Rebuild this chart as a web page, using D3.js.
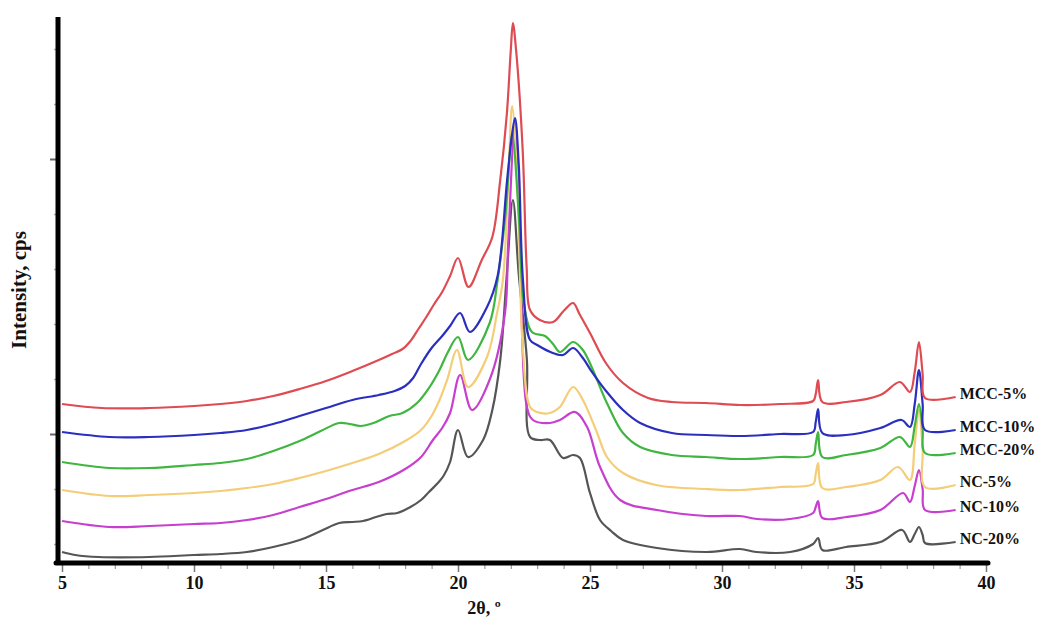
<!DOCTYPE html>
<html>
<head>
<meta charset="utf-8">
<script src="https://cdn.jsdelivr.net/npm/d3@7"></script>
<style>
  html, body { margin: 0; padding: 0; background: #fff; }
  svg { display: block; }
  .lbl { font-family: "Liberation Serif", "Times New Roman", serif; font-weight: bold; fill: #111; }
</style>
</head>
<body>
<svg id="chart" width="1041" height="625"></svg>
<script>
// ---- Data (2θ in degrees, intensity in arbitrary cps units, offsets included) ----
const seriesNames = ["MCC-5%", "MCC-10%", "MCC-20%", "NC-5%", "NC-10%", "NC-20%"];
const seriesColors = ["#de4b52", "#2b2fbf", "#3fb63f", "#f4cd78", "#c63fcf", "#555555"];

const mcc5 = [[5.0,140],[6.5,136],[8.3,136],[10.0,138],[11.0,140],[12.0,143],[13.0,148],[14.0,155],[15.0,163],[16.0,173],[17.0,184],[17.5,190],[17.9,195],[18.2,203],[18.5,215],[18.8,227],[19.1,240],[19.4,252],[19.7,268],[20.0,286],[20.4,257],[20.9,284],[21.3,307],[21.6,364],[21.85,430],[22.0,494],[22.08,521],[22.2,494],[22.45,394],[22.6,277],[22.73,234],[23.1,224],[23.6,222],[24.0,233],[24.36,241],[24.6,230],[25.0,211],[25.6,181],[26.25,161],[27.2,146],[28.1,142],[29.4,141],[30.7,139],[32.2,140],[33.45,143],[33.55,150],[33.64,164],[33.8,142],[34.7,142],[36.0,149],[36.74,162],[37.12,152],[37.3,172],[37.46,202],[37.6,170],[37.69,146],[38.85,147]];
const mcc10 = [[5.0,112],[6.8,107],[8.3,107],[10.0,109],[11.0,111],[12.0,114],[13.0,120],[14.0,128],[15.0,136],[16.0,144],[17.0,149],[17.6,153],[18.0,158],[18.3,166],[18.6,180],[19.0,196],[19.4,208],[19.7,218],[20.08,231],[20.45,212],[21.1,237],[21.5,268],[21.86,364],[22.05,410],[22.16,426],[22.3,380],[22.46,264],[22.73,204],[23.0,199],[23.5,192],[23.98,189],[24.36,196],[24.73,186],[25.0,175],[25.64,152],[26.25,134],[26.9,121],[28.1,111],[29.4,109],[30.7,108],[32.2,110],[33.45,112],[33.55,122],[33.64,135],[33.8,111],[34.7,109],[36.0,116],[36.8,124],[37.12,117],[37.3,140],[37.46,174],[37.6,140],[37.69,114],[38.85,114]];
const mcc20 = [[5.0,82],[6.8,76],[8.3,76],[10.0,79],[11.0,81],[12.0,85],[13.0,93],[14.0,103],[14.8,113],[15.5,121],[15.9,120],[16.3,118],[16.8,121],[17.4,128],[17.9,131],[18.45,141],[18.9,156],[19.3,174],[19.6,191],[20.0,207],[20.38,184],[21.2,221],[21.5,264],[21.8,330],[22.05,409],[22.3,330],[22.5,240],[22.8,212],[23.3,208],[23.6,200],[23.86,192],[24.36,202],[24.73,194],[25.64,141],[26.25,111],[26.9,97],[28.1,89],[29.4,87],[30.7,85],[32.2,87],[33.45,89],[33.55,100],[33.64,112],[33.8,87],[34.7,89],[36.0,96],[36.74,107],[37.12,97],[37.3,118],[37.46,140],[37.6,115],[37.69,91],[38.85,91]];
const nc5 = [[5.0,54],[6.8,48],[8.3,49],[10.0,51],[11.0,53],[12.0,56],[13.0,60],[14.0,66],[15.0,73],[16.0,81],[17.0,90],[18.0,103],[18.6,114],[19.0,128],[19.3,144],[19.6,165],[19.96,194],[20.38,157],[21.1,187],[21.48,231],[21.7,264],[21.9,360],[22.05,438],[22.25,360],[22.46,194],[22.73,137],[22.99,132],[23.48,131],[23.86,137],[24.36,157],[24.73,144],[25.27,111],[25.64,87],[26.25,71],[27.5,59],[29.4,55],[30.7,54],[32.2,57],[33.45,60],[33.55,70],[33.64,81],[33.8,56],[34.7,57],[36.0,64],[36.67,77],[37.12,64],[37.3,100],[37.46,134],[37.6,95],[37.69,57],[38.85,59]];
const nc10 = [[5.0,23],[6.8,17],[8.3,18],[10.0,20],[11.0,21],[12.0,24],[13.0,29],[14.0,37],[15.0,45],[16.0,54],[17.0,62],[18.0,75],[18.6,87],[19.05,104],[19.4,116],[19.7,131],[20.08,169],[20.53,134],[21.21,165],[21.78,231],[21.9,300],[22.16,422],[22.35,300],[22.61,137],[22.84,124],[23.48,121],[23.86,124],[24.43,132],[24.89,117],[25.38,77],[26.14,44],[27.54,34],[29.4,28],[30.68,28],[31.33,25],[32.58,25],[33.45,31],[33.55,37],[33.64,43],[33.8,26],[34.7,27],[36.0,34],[36.86,51],[37.12,42],[37.3,58],[37.46,74],[37.6,55],[37.69,34],[38.85,34]];
const nc20 = [[5.0,-8],[5.5,-11],[6.4,-13],[8.3,-13],[10.0,-11],[11.0,-10],[12.0,-8],[13.0,-3],[14.0,4],[14.8,13],[15.5,21],[16.0,22],[16.4,23],[16.9,27],[17.3,30],[17.7,31],[18.2,37],[18.6,44],[18.9,52],[19.2,60],[19.45,68],[19.7,82],[20.0,114],[20.38,87],[20.95,104],[21.3,134],[21.6,184],[21.85,270],[22.08,344],[22.3,270],[22.61,184],[22.73,107],[23.1,104],[23.48,104],[23.98,86],[24.36,89],[24.62,86],[25.0,51],[25.38,24],[25.8,13],[26.25,4],[27.54,-4],[29.43,-8],[30.68,-5],[31.3,-8],[32.58,-8],[33.45,0],[33.64,6],[33.8,-6],[34.7,-3],[36.0,2],[36.82,14],[37.12,2],[37.3,10],[37.46,17],[37.6,9],[37.69,1],[38.85,2]];

const xMajorTicks = [5, 10, 15, 20, 25, 30, 35, 40];
const xMinorTicks = d3.range(5, 41, 1);
const yMinorTicks = [0, 55, 110, 165, 220, 275, 330, 385, 440, 495];
const yMajorTicks = [110, 385];
const xTitle = "2θ, º";
const yTitle = "Intensity, cps";

// ---- Drawing ----
const svg = d3.select("#chart");
const x = d3.scaleLinear().domain([5, 40]).range([62, 986]);
const y = d3.scaleLinear().domain([-19, 526]).range([563, 18]);

const allSeries = [mcc5, mcc10, mcc20, nc5, nc10, nc20];

// X ticks
const gx = svg.append("g").attr("transform", "translate(0,563)");
gx.call(d3.axisBottom(x).tickValues(xMinorTicks).tickSize(6).tickSizeOuter(0).tickFormat(""));
gx.call(g => g.select(".domain").remove());
gx.selectAll(".tick line").attr("stroke", "#888").attr("stroke-width", 1);
const gx2 = svg.append("g").attr("transform", "translate(0,563)");
gx2.call(d3.axisBottom(x).tickValues(xMajorTicks).tickSize(9).tickSizeOuter(0).tickPadding(4).tickFormat(d3.format("d")));
gx2.call(g => g.select(".domain").remove());
gx2.selectAll(".tick line").attr("stroke", "#777").attr("stroke-width", 1.5);
gx2.selectAll(".tick text").attr("class", "lbl").style("font-size", "18px");

// Y ticks
const gy = svg.append("g").attr("transform", "translate(58,0)");
gy.call(d3.axisLeft(y).tickValues(yMinorTicks).tickSize(4).tickSizeOuter(0).tickFormat(""));
gy.call(g => g.select(".domain").remove());
gy.selectAll(".tick line")
  .attr("stroke-width", d => yMajorTicks.includes(d) ? 2 : 1.5)
  .attr("x2", d => yMajorTicks.includes(d) ? -8 : -4)
  .attr("stroke", d => yMajorTicks.includes(d) ? "#666" : "#aaa");

// Curves
const line = d3.line().x(d => x(d[0])).y(d => y(d[1])).curve(d3.curveCatmullRom.alpha(0.5));
const order = [5, 4, 3, 2, 1, 0];
svg.append("g").selectAll("path").data(order).join("path")
  .attr("d", i => line(allSeries[i]))
  .attr("fill", "none")
  .attr("stroke", i => seriesColors[i])
  .attr("stroke-width", 2.2)
  .attr("stroke-linejoin", "round");

// Series labels at the curve ends
svg.append("g").selectAll("text").data(allSeries).join("text")
  .attr("class", "lbl")
  .attr("x", d => x(d[d.length - 1][0]) + 4)
  .attr("y", d => y(d[d.length - 1][1]) - 2)
  .attr("dominant-baseline", "middle")
  .style("font-size", "16px")
  .text((d, i) => seriesNames[i]);

// Thick axis lines
svg.append("line").attr("x1", 58).attr("x2", 58).attr("y1", 17).attr("y2", 565)
  .attr("stroke", "#000").attr("stroke-width", 5);
svg.append("line").attr("x1", 56).attr("x2", 988).attr("y1", 563).attr("y2", 563)
  .attr("stroke", "#000").attr("stroke-width", 5).attr("stroke-linecap", "round");

// Axis titles
svg.append("text").attr("class", "lbl")
  .attr("x", 484).attr("y", 614)
  .attr("text-anchor", "middle").style("font-size", "18px").text(xTitle);
svg.append("text").attr("class", "lbl")
  .attr("transform", "translate(21,290) rotate(-90)")
  .attr("text-anchor", "middle").attr("dominant-baseline", "middle")
  .style("font-size", "21px").text(yTitle);
</script>
</body>
</html>
